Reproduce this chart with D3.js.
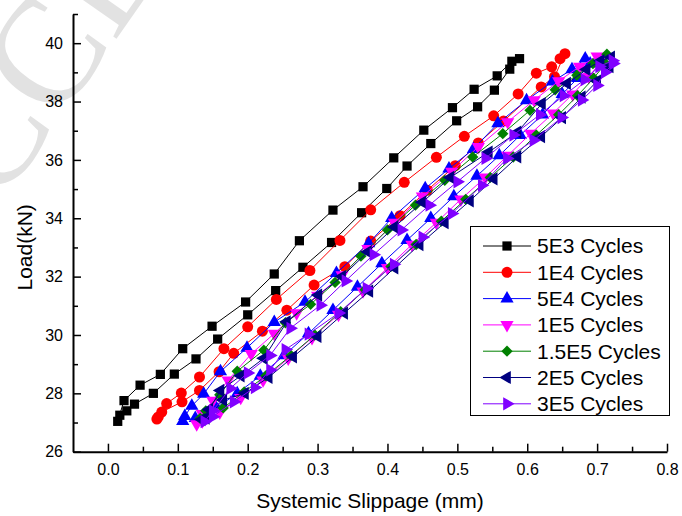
<!DOCTYPE html>
<html>
<head>
<meta charset="utf-8">
<script src="https://cdn.jsdelivr.net/npm/d3@7"></script>
<style>
  html, body { margin: 0; padding: 0; background: #fff; }
  svg { display: block; font-family: "Liberation Sans", Arial, sans-serif; }
</style>
</head>
<body>
<svg id="chart" width="682" height="516"></svg>
<script>
// Load versus systemic slippage, one loading/unloading loop per cycle count.
// Each series: [slippage (mm), load (kN)] in the order the loop was traced.
const seriesNames = ["5E3 Cycles", "1E4 Cycles", "5E4 Cycles", "1E5 Cycles", "1.5E5 Cycles", "2E5 Cycles", "3E5 Cycles"];

const loop5E3 = [
  [0.014,27.04],[0.023,27.75],[0.046,28.28],[0.075,28.65],[0.107,29.53],[0.149,30.30],[0.197,31.13],[0.238,32.09],
  [0.274,33.23],[0.322,34.28],[0.365,35.08],[0.409,36.07],[0.452,37.02],[0.493,37.79],[0.524,38.42],[0.557,38.88],
  [0.578,39.38],[0.589,39.47],
  [0.575,39.11],[0.553,38.39],[0.529,37.82],[0.499,37.34],[0.462,36.56],[0.428,35.79],[0.399,35.02],[0.363,34.19],
  [0.320,33.17],[0.279,32.32],[0.240,31.52],[0.200,30.69],[0.157,29.86],[0.126,29.18],[0.095,28.66],[0.065,28.00],
  [0.038,27.63],[0.027,27.40],[0.017,27.25]
];
const loop1E4 = [
  [0.070,27.12],[0.084,27.65],[0.105,28.01],[0.131,28.56],[0.166,29.53],[0.200,30.28],[0.241,31.22],[0.289,32.21],
  [0.332,33.24],[0.376,34.29],[0.424,35.23],[0.470,36.09],[0.510,36.81],[0.552,37.51],[0.587,38.26],[0.613,38.97],
  [0.635,39.19],[0.647,39.47],[0.654,39.64],
  [0.639,38.85],[0.620,38.50],[0.566,37.33],[0.530,36.58],[0.497,35.80],[0.457,34.96],[0.418,34.09],[0.376,33.22],
  [0.339,32.34],[0.295,31.71],[0.256,30.85],[0.221,30.13],[0.180,29.37],[0.159,28.74],[0.131,28.10],[0.106,27.71],
  [0.077,27.36],[0.072,27.19]
];
const loop5E4 = [
  [0.107,27.05],[0.110,27.22],[0.120,27.57],[0.137,27.98],[0.161,28.75],[0.199,29.56],[0.238,30.44],[0.282,31.13],
  [0.327,32.12],[0.373,33.14],[0.406,34.00],[0.454,35.02],[0.488,35.70],[0.523,36.37],[0.558,37.25],[0.599,38.04],
  [0.636,38.68],[0.664,39.10],[0.683,39.47],
  [0.690,39.30],[0.672,38.80],[0.650,38.25],[0.622,37.55],[0.590,36.85],[0.560,36.15],[0.528,35.45],[0.495,34.75],
  [0.462,34.00],[0.428,33.25],[0.392,32.45],[0.357,31.65],[0.322,30.85],[0.287,30.05],[0.252,29.30],[0.218,28.60],
  [0.185,28.00],[0.155,27.50],[0.125,27.15]
];
const loop1E5 = [
  [0.127,26.95],[0.135,27.30],[0.150,27.75],[0.172,28.45],[0.205,29.35],[0.238,30.05],[0.270,30.75],[0.300,31.35],
  [0.335,32.05],[0.372,32.95],[0.410,33.85],[0.450,34.75],[0.492,35.60],[0.530,36.45],[0.572,37.30],[0.610,38.05],
  [0.645,38.70],[0.675,39.20],[0.700,39.55],
  [0.705,39.35],[0.688,38.85],[0.665,38.25],[0.637,37.60],[0.605,36.90],[0.572,36.15],[0.540,35.40],[0.505,34.65],
  [0.470,33.85],[0.435,33.10],[0.400,32.30],[0.365,31.50],[0.330,30.70],[0.292,29.90],[0.258,29.20],[0.222,28.45],
  [0.190,27.85],[0.160,27.35],[0.135,27.05]
];
const loop15E5 = [
  [0.132,27.14],[0.140,27.40],[0.160,27.95],[0.185,28.76],[0.223,29.48],[0.254,30.42],[0.290,31.05],[0.325,31.80],
  [0.362,32.70],[0.400,33.60],[0.440,34.45],[0.482,35.30],[0.522,36.10],[0.565,36.90],[0.604,37.70],[0.640,38.40],
  [0.671,38.90],[0.694,39.30],[0.714,39.62],
  [0.712,39.30],[0.695,38.80],[0.672,38.20],[0.645,37.55],[0.613,36.85],[0.580,36.10],[0.547,35.40],[0.512,34.65],
  [0.477,33.90],[0.441,33.10],[0.405,32.35],[0.368,31.55],[0.333,30.80],[0.296,30.00],[0.262,29.30],[0.226,28.60],
  [0.195,28.05],[0.165,27.50],[0.140,27.20]
];
const loop2E5 = [
  [0.134,27.10],[0.145,27.45],[0.161,28.10],[0.190,28.60],[0.223,29.20],[0.256,30.45],[0.301,31.37],[0.335,32.00],
  [0.372,32.85],[0.410,33.70],[0.450,34.55],[0.490,35.40],[0.545,36.27],[0.586,36.95],[0.621,37.93],[0.657,38.62],
  [0.685,39.10],[0.705,39.40],[0.720,39.52],
  [0.718,39.20],[0.700,38.70],[0.678,38.15],[0.650,37.45],[0.620,36.80],[0.586,36.10],[0.552,35.35],[0.518,34.60],
  [0.482,33.85],[0.446,33.10],[0.410,32.30],[0.374,31.50],[0.338,30.75],[0.300,29.95],[0.265,29.25],[0.230,28.55],
  [0.196,28.00],[0.165,27.77],[0.140,27.15]
];
const loop3E5 = [
  [0.138,27.03],[0.150,27.40],[0.175,28.17],[0.200,28.70],[0.232,29.30],[0.261,30.23],[0.304,31.02],[0.340,31.85],
  [0.380,32.75],[0.420,33.60],[0.460,34.45],[0.500,35.25],[0.540,36.05],[0.580,36.85],[0.618,37.55],[0.652,38.20],
  [0.682,38.75],[0.703,39.20],[0.722,39.40],
  [0.723,39.30],[0.711,39.00],[0.700,38.55],[0.678,38.05],[0.649,37.45],[0.609,36.67],[0.571,36.05],[0.535,35.13],
  [0.492,34.16],[0.450,33.35],[0.409,32.42],[0.370,31.60],[0.330,30.75],[0.287,30.03],[0.254,29.50],[0.232,28.80],
  [0.210,28.20],[0.180,27.71],[0.150,27.20]
];

const xTicks = [0.0, 0.1, 0.2, 0.3, 0.4, 0.5, 0.6, 0.7, 0.8];
const yTicks = [26, 28, 30, 32, 34, 36, 38, 40];
const xTitle = "Systemic Slippage (mm)";
const yTitle = "Load(kN)";

// ---- drawing ----
const loops = [loop5E3, loop1E4, loop5E4, loop1E5, loop15E5, loop2E5, loop3E5];
const colors = ["#000000", "#ff0000", "#0000ff", "#ff00ff", "#008000", "#000080", "#8000ff"];
// marker shape: symbol type + rotation
const markers = [
  { type: d3.symbolSquare, size: 85, rot: 0 },
  { type: d3.symbolCircle, size: 95, rot: 0 },
  { type: d3.symbolTriangle, size: 76, rot: 0 },
  { type: d3.symbolTriangle, size: 76, rot: 180 },
  { type: d3.symbolSquare, size: 64, rot: 45 },
  { type: d3.symbolTriangle, size: 76, rot: -90 },
  { type: d3.symbolTriangle, size: 76, rot: 90 }
];

const svg = d3.select("#chart");

// faint diagonal watermark
svg.append("text")
  .attr("transform", "translate(-63,295) rotate(-55)")
  .attr("font-family", "'Liberation Serif', 'Times New Roman', serif")
  .attr("font-size", 150)
  .attr("fill", "#e2e2e2")
  .text("ACCEPTED MANUSCRIPT");

const x = d3.scaleLinear().domain([-0.05, 0.8]).range([73, 667]);
const y = d3.scaleLinear().domain([26, 41]).range([451.7, 14]);

// minor ticks
const xMinor = d3.range(0.05, 0.8, 0.1);
const yMinor = d3.range(27, 42, 2);

const gx = svg.append("g").attr("transform", `translate(0,${y(26)})`);
gx.call(d3.axisBottom(x).tickValues(xTicks).tickFormat(d3.format(".1f"))
  .tickSizeInner(-8).tickSizeOuter(0).tickPadding(12));
gx.append("g").call(d3.axisBottom(x).tickValues(xMinor).tickFormat("").tickSizeInner(-5).tickSizeOuter(0))
  .select(".domain").remove();

const gy = svg.append("g").attr("transform", `translate(${x(-0.05)},0)`);
gy.call(d3.axisLeft(y).tickValues(yTicks).tickFormat(d3.format("d"))
  .tickSizeInner(-8).tickSizeOuter(0).tickPadding(10));
gy.append("g").call(d3.axisLeft(y).tickValues(yMinor).tickFormat("").tickSizeInner(-5).tickSizeOuter(0))
  .select(".domain").remove();

[gx, gy].forEach(g => {
  g.selectAll(".domain").attr("stroke", "#000").attr("stroke-width", 2);
  g.selectAll(".tick line").attr("stroke", "#000").attr("stroke-width", 1.5);
  g.selectAll(".tick text").attr("font-size", 16).attr("fill", "#000")
    .attr("font-family", "'Liberation Sans', Arial, sans-serif");
});

// axis titles
svg.append("text")
  .attr("x", 370).attr("y", 508)
  .attr("text-anchor", "middle")
  .attr("font-size", 21)
  .text(xTitle);
svg.append("text")
  .attr("transform", `translate(32,${(451.7 + 43) / 2}) rotate(-90)`)
  .attr("text-anchor", "middle")
  .attr("font-size", 21)
  .text(yTitle);

// series
const line = d3.line().x(d => x(d[0])).y(d => y(d[1]));
const sym = m => d3.symbol().type(m.type).size(m.size)();

loops.forEach((data, i) => {
  const g = svg.append("g");
  g.append("path")
    .attr("d", line(data))
    .attr("fill", "none")
    .attr("stroke", colors[i])
    .attr("stroke-width", 1);
  g.selectAll("path.mk")
    .data(data)
    .join("path")
    .attr("class", "mk")
    .attr("d", sym(markers[i]))
    .attr("transform", d => `translate(${x(d[0])},${y(d[1])}) rotate(${markers[i].rot})`)
    .attr("fill", colors[i]);
});

// legend
const lg = svg.append("g");
lg.append("rect")
  .attr("x", 470.5).attr("y", 226.5)
  .attr("width", 199).attr("height", 189)
  .attr("fill", "#fff")
  .attr("stroke", "#000").attr("stroke-width", 1);
seriesNames.forEach((name, i) => {
  const cy = 246 + i * 26.3;
  lg.append("line")
    .attr("x1", 483).attr("x2", 531).attr("y1", cy).attr("y2", cy)
    .attr("stroke", colors[i]).attr("stroke-width", 1);
  lg.append("path")
    .attr("d", sym(markers[i]))
    .attr("transform", `translate(507,${cy}) rotate(${markers[i].rot})`)
    .attr("fill", colors[i]);
  lg.append("text")
    .attr("x", 537).attr("y", cy)
    .attr("dy", "0.35em")
    .attr("font-size", 21)
    .text(name);
});
</script>
</body>
</html>
